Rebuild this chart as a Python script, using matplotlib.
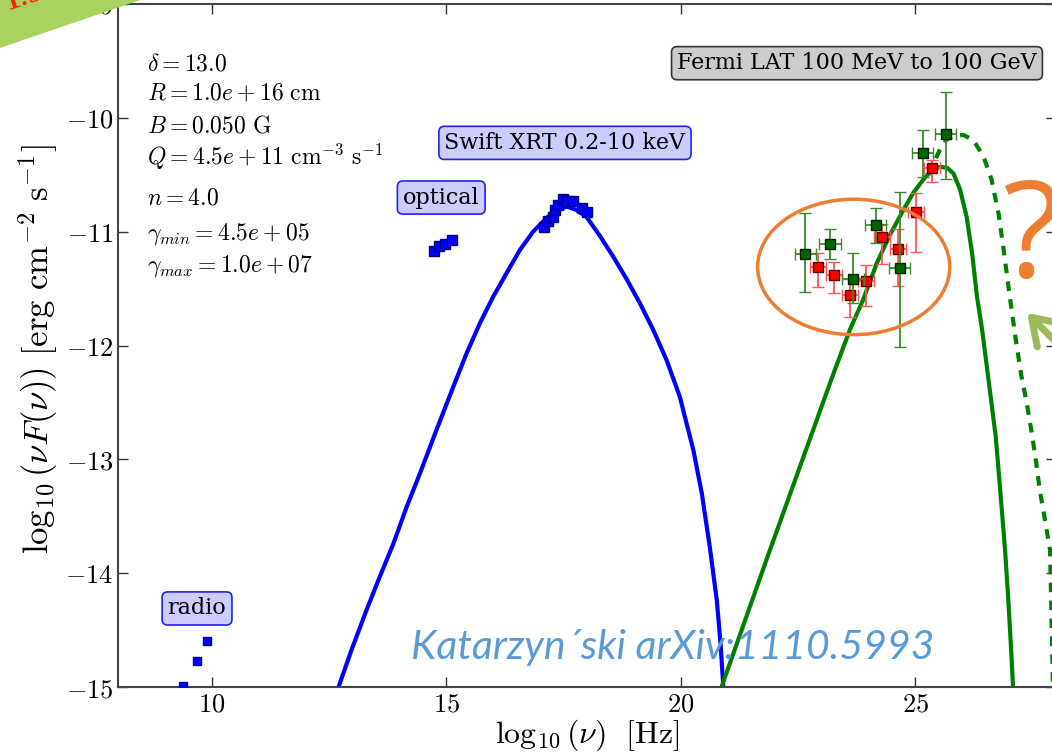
import numpy as np
import matplotlib
matplotlib.use("Agg")
import matplotlib.pyplot as plt
from matplotlib.patches import Ellipse, Polygon, FancyArrowPatch
from matplotlib.ticker import FuncFormatter

plt.rcParams['mathtext.fontset'] = 'cm'
plt.rcParams['font.family'] = 'DejaVu Serif'
plt.rcParams['xtick.direction'] = 'in'
plt.rcParams['ytick.direction'] = 'in'

# --- data (log10 nu [Hz], log10 nuFnu) ---
radio_x = [9.39, 9.68, 9.90]
radio_y = [-14.99, -14.77, -14.60]

optical_x = [14.73, 14.85, 14.96, 15.11]
optical_y = [-11.17, -11.13, -11.11, -11.07]

xray_x = [17.08, 17.17, 17.27, 17.32, 17.38, 17.49, 17.57, 17.70, 17.89, 18.00]
xray_y = [-10.96, -10.91, -10.87, -10.81, -10.77, -10.71, -10.73, -10.73, -10.79, -10.83]

lat_g_x = [22.66, 23.18, 23.67, 24.16, 24.67, 25.16, 25.65]
lat_g_y = [-11.20, -11.11, -11.42, -10.94, -11.32, -10.31, -10.14]
lat_g_lo = [0.33, 0.13, 0.21, 0.16, 0.69, 0.21, 0.40]
lat_g_hi = [0.36, 0.13, 0.23, 0.15, 0.67, 0.20, 0.37]
lat_g_xerr = 0.23

lat_r_x = [22.93, 23.27, 23.62, 23.96, 24.30, 24.64, 25.01, 25.36]
lat_r_y = [-11.31, -11.38, -11.56, -11.43, -11.05, -11.15, -10.83, -10.44]
lat_r_lo = [0.18, 0.16, 0.19, 0.22, 0.23, 0.33, 0.35, 0.12]
lat_r_hi = [0.12, 0.11, 0.14, 0.14, 0.12, 0.17, 0.17, 0.07]
lat_r_xerr = 0.17

# synchrotron model (blue)
sync_x = [12.69, 12.98, 13.30, 13.58, 13.87, 14.15, 14.44, 14.79, 15.15, 15.43,
          15.72, 16.00, 16.29, 16.57, 16.85, 17.14, 17.35, 17.57, 17.78, 17.99,
          18.28, 18.56, 18.85, 19.13, 19.41, 19.70, 19.98, 20.27, 20.45, 20.62,
          20.77, 20.85, 20.91]
sync_y = [-15.01, -14.67, -14.32, -14.03, -13.74, -13.42, -13.12, -12.74, -12.36, -12.07,
          -11.80, -11.57, -11.36, -11.16, -11.00, -10.88, -10.81, -10.78, -10.81, -10.87,
          -11.04, -11.22, -11.42, -11.63, -11.86, -12.13, -12.45, -12.92, -13.30, -13.77,
          -14.24, -14.62, -15.01]

# inverse Compton model (green solid)
ic_x = [20.87, 21.90, 23.22, 23.61, 23.89, 24.18, 24.46, 24.75, 24.96, 25.18,
        25.33, 25.53, 25.69, 25.82, 25.96, 26.10, 26.22, 26.32, 26.43, 26.56,
        26.64, 26.72, 26.78, 26.85, 26.92, 26.99, 27.05, 27.09]
ic_y = [-15.0, -13.80, -12.29, -11.86, -11.60, -11.28, -11.03, -10.81, -10.66, -10.54,
        -10.47, -10.43, -10.44, -10.49, -10.63, -10.87, -11.20, -11.57, -11.86, -12.28,
        -12.54, -12.80, -13.09, -13.44, -13.80, -14.24, -14.68, -15.0]

# alternative IC curve (green dashed)
ic2_x = [25.30, 25.39, 25.53, 25.67, 25.85, 26.03, 26.17, 26.28, 26.46, 26.63,
         26.78, 26.88, 27.02, 27.17, 27.27, 27.38, 27.49, 27.58, 27.66, 27.77,
         27.88, 27.91, 27.94]
ic2_y = [-10.50, -10.40, -10.28, -10.19, -10.16, -10.15, -10.18, -10.22, -10.34, -10.54,
         -10.84, -11.13, -11.57, -12.01, -12.27, -12.50, -12.77, -13.02, -13.27, -13.53,
         -13.80, -14.38, -15.0]

params = [r'$\delta=13.0$',
          r'$R=1.0e+16\ \mathrm{cm}$',
          r'$B=0.050\ \mathrm{G}$',
          r'$Q=4.5e+11\ \mathrm{cm}^{-3}\ \mathrm{s}^{-1}$',
          r'$n=4.0$',
          r'$\gamma_{min}=4.5e+05$',
          r'$\gamma_{max}=1.0e+07$']
param_y = [-9.58, -9.84, -10.13, -10.41, -10.76, -11.07, -11.35]

fig = plt.figure(figsize=(10.52, 7.53), dpi=100)
ax = fig.add_axes([118.3/1052, 1-687/753, (1055.7-118.3)/1052, (687-4)/753])

ax.plot(sync_x, sync_y, color='#0000ff', lw=3.0, zorder=2, solid_joinstyle='round')
ax.plot(ic_x, ic_y, color='#008000', lw=3.0, zorder=2, solid_joinstyle='round')
ax.plot(ic2_x, ic2_y, color='#008000', lw=3.0, ls=(0, (2.3, 2.0)), zorder=2)

ax.plot(radio_x, radio_y, 's', color='#0000ff', ms=6, mec='#0000cc', zorder=3)
ax.plot(optical_x, optical_y, 's', color='#0000ff', ms=7, mec='#000088', zorder=3)
ax.plot(xray_x, xray_y, 's', color='#0000ff', ms=7, mec='#000088', zorder=3)

ax.errorbar(lat_r_x, lat_r_y, yerr=[lat_r_lo, lat_r_hi], xerr=lat_r_xerr, fmt='s',
            color='#ff0000', mec='#550000', ms=7, ecolor='#ff5555', elinewidth=1.3,
            capsize=4, zorder=4)
ax.errorbar(lat_g_x, lat_g_y, yerr=[lat_g_lo, lat_g_hi], xerr=lat_g_xerr, fmt='s',
            color='#006400', mec='#002200', ms=7, ecolor='#3a8a2a', elinewidth=1.3,
            capsize=4, zorder=5)

ax.add_patch(Ellipse((23.69, -11.31), 4.10, 1.19, fill=False, ec='#ED7D31', lw=2.5, zorder=6))

for s, y in zip(params, param_y):
    ax.text(8.61, y, s, fontsize=17, va='baseline', ha='left')

box_blue = dict(boxstyle='round,pad=0.25', fc='#ccccff', ec='#2222ee', lw=1.2)
ax.text(17.53, -10.22, 'Swift XRT 0.2-10 keV', fontsize=16, ha='center', va='center', bbox=box_blue)
ax.text(14.89, -10.70, 'optical', fontsize=16, ha='center', va='center', bbox=box_blue)
ax.text(9.68, -14.31, 'radio', fontsize=16, ha='center', va='center', bbox=box_blue)
ax.text(23.76, -9.52, 'Fermi LAT 100 MeV to 100 GeV', fontsize=16, ha='center', va='center',
        bbox=dict(boxstyle='round,pad=0.25', fc='#cccccc', ec='#333333', lw=1.2))

ax.text(19.83, -14.75, 'Katarzyn\u00b4ski arXiv:1110.5993', fontsize=29.5, style='italic',
        family='Lato', color='#5B9BD5', ha='center', va='baseline', zorder=7)

ax.set_xlim(8, 28)
ax.set_ylim(-15, -9)
ax.set_xticks([10, 15, 20, 25])
ax.set_yticks([-15, -14, -13, -12, -11, -10, -9])
fmt = FuncFormatter(lambda v, p: r'$%d$' % v)
ax.xaxis.set_major_formatter(fmt)
ax.yaxis.set_major_formatter(fmt)
ax.tick_params(top=True, right=True, labelsize=19, length=7, width=1.0, color='#333333')
for sp in ax.spines.values():
    sp.set_color('#444444')
    sp.set_linewidth(1.5)
ax.set_xlabel(r'$\log_{10}(\nu)\ \ [\mathrm{Hz}]$', fontsize=23)
ax.set_ylabel(r'$\log_{10}(\nu F(\nu))\ [\mathrm{erg\ cm^{-2}\ s^{-1}}]$', fontsize=25)
ax.xaxis.set_label_coords(0.5, -0.045)
ax.yaxis.set_label_coords(-0.062, 0.495)

# slide decorations
fig.text(1003/1052, 1-277/753, '?', fontsize=96, family='Open Sans', color='#ED7D31',
         ha='left', va='baseline')
fig.add_artist(FancyArrowPatch(
    (1090/1052, 1-376/753), (1027/1052, 1-313/753), transform=fig.transFigure,
    arrowstyle='->,head_length=18,head_width=12', color='#9BBB59', lw=5,
    shrinkA=0, shrinkB=0, capstyle='round', joinstyle='round'))
fig.add_artist(Polygon([(0, 1), (140/1052, 1), (0, 1-48/753)], closed=True,
                       transform=fig.transFigure, fc='#A9D25E', ec='none', zorder=10))
fig.text(2/1052, 1-10/753, '1.5', fontsize=16, weight='bold', color='#ff2200',
         rotation=18, ha='left', va='baseline', zorder=11)

fig.savefig('out.png', dpi=100)
